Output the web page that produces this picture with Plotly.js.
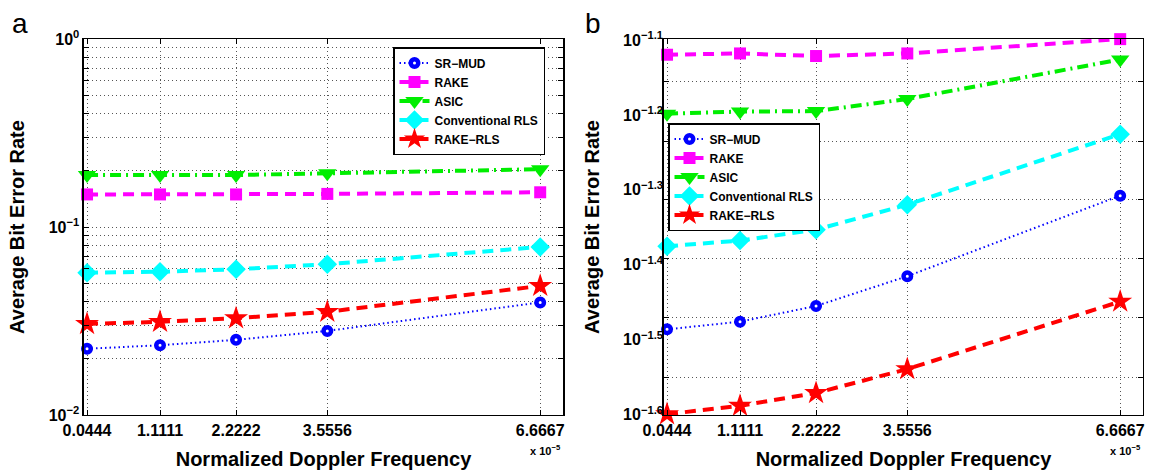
<!DOCTYPE html>
<html>
<head>
<meta charset="utf-8">
<script src="https://cdn.plot.ly/plotly-3.0.1.min.js"></script>
<style>html,body{margin:0;padding:0;background:#fff;}#chart{width:1150px;height:474px;}</style>
</head>
<body>
<div id="chart"></div>
<script>
// ---- data ----
const dopplerVals = [0.0444, 1.1111, 2.2222, 3.5556, 6.6667];
const dopplerLabels = ['0.0444', '1.1111', '2.2222', '3.5556', '6.6667'];
const seriesNames = ['SR\u2212MUD', 'RAKE', 'ASIC', 'Conventional RLS', 'RAKE\u2212RLS'];

// panel a (BER)
const aSRMUD   = [0.0225, 0.0235, 0.0251, 0.0280, 0.0397];
const aRAKE    = [0.149, 0.149, 0.149, 0.150, 0.153];
const aASIC    = [0.189, 0.189, 0.189, 0.193, 0.203];
const aConvRLS = [0.0571, 0.0578, 0.0596, 0.0634, 0.0783];
const aRAKERLS = [0.0305, 0.0313, 0.0327, 0.0354, 0.0486];

// panel b (BER)
const bSRMUD   = [0.03265, 0.03343, 0.03507, 0.03842, 0.04917];
const bRAKE    = [0.0757, 0.0760, 0.0754, 0.0760, 0.0794];
const bASIC    = [0.0632, 0.0636, 0.0637, 0.0661, 0.0746];
const bConvRLS = [0.04211, 0.04285, 0.04431, 0.04783, 0.05936];
const bRAKERLS = [0.02518, 0.02584, 0.02687, 0.02891, 0.03555];

// tick labels / tick positions
const aTickVals = [0.01,0.02,0.03,0.04,0.05,0.06,0.07,0.08,0.09,0.1,0.2,0.3,0.4,0.5,0.6,0.7,0.8,0.9,1];
const aTickText = ['10<sup>\u22122</sup>','','','','','','','','','10<sup>\u22121</sup>','','','','','','','','','10<sup>0</sup>'];
const bLabelExps = [-1.1, -1.2, -1.3, -1.4, -1.5, -1.6];
const bLabelText = ['10<sup>\u22121.1</sup>','10<sup>\u22121.2</sup>','10<sup>\u22121.3</sup>','10<sup>\u22121.4</sup>','10<sup>\u22121.5</sup>','10<sup>\u22121.6</sup>'];
const bGridExps = [-1.157, -1.2366, -1.3135, -1.3918, -1.470, -1.5496];

// ---- styles ----
const styles = [
  {line:{color:'#0000ff', width:2, dash:'1.5px,3px'}, marker:{symbol:'circle', size:7.5, color:'#ffffff', line:{color:'#0000ff', width:4.5}}},
  {line:{color:'#ff00ff', width:4, dash:'11px,7px'}, marker:{symbol:'square', size:12, color:'#ff00ff', line:{width:0}}},
  {line:{color:'#00ee00', width:4, dash:'11px,5px,2px,5px'}, marker:{symbol:'triangle-down', size:16, color:'#00ee00', line:{width:0}}},
  {line:{color:'#00ffff', width:4, dash:'11px,7px'}, marker:{symbol:'diamond', size:15, color:'#00ffff', line:{width:0}}},
  {line:{color:'#ff0000', width:4, dash:'11px,7px'}, marker:{symbol:'star', size:18, color:'#ff0000', line:{width:0}}}
];

const aData = [aSRMUD, aRAKE, aASIC, aConvRLS, aRAKERLS];
const bData = [bSRMUD, bRAKE, bASIC, bConvRLS, bRAKERLS];

const traces = [];
aData.forEach((ys, i) => traces.push({
  type:'scatter', mode:'lines+markers', x:dopplerVals, y:ys, name:seriesNames[i],
  xaxis:'x', yaxis:'y', legend:'legend', cliponaxis:false,
  line:styles[i].line, marker:styles[i].marker
}));
bData.forEach((ys, i) => traces.push({
  type:'scatter', mode:'lines+markers', x:dopplerVals, y:ys, name:seriesNames[i],
  xaxis:'x2', yaxis:'y2', legend:'legend2', cliponaxis:false,
  line:styles[i].line, marker:styles[i].marker
}));
// empty trace so the label axis of panel b is drawn
traces.push({type:'scatter', mode:'markers', x:[], y:[], xaxis:'x2', yaxis:'y3', showlegend:false, hoverinfo:'skip'});

const FONT = 'Liberation Sans, Arial, Helvetica, sans-serif';
const gridStyle = {showgrid:true, gridcolor:'#555555', gridwidth:1, griddash:'1px,3px'};
const lineStyle = {showline:true, linecolor:'#000', linewidth:1.5, mirror:'ticks', ticks:'inside', ticklen:5, tickwidth:1, tickcolor:'#000', zeroline:false};

const yDom = [0.1245, 0.9177];

function xAxis(dom, anchor) {
  return Object.assign({
    domain:dom, anchor:anchor, range:[0,7], tickmode:'array', tickvals:dopplerVals, ticktext:dopplerLabels,
    tickfont:{family:FONT, size:16, weight:'bold', color:'#000'},
    title:{text:'Normalized Doppler Frequency', font:{family:FONT, size:20, weight:'bold', color:'#000'}, standoff:14},
    automargin:false, fixedrange:true
  }, gridStyle, lineStyle);
}

const legendBase = {
  bgcolor:'#ffffff', bordercolor:'#000', borderwidth:1.5,
  font:{family:FONT, size:12, weight:'bold', color:'#000'},
  xanchor:'left', yanchor:'top', tracegroupgap:0, itemwidth:30
};

const layout = {
  width:1150, height:474,
  margin:{l:0, r:0, t:0, b:0},
  paper_bgcolor:'#ffffff', plot_bgcolor:'#ffffff',
  font:{family:FONT, color:'#000'},
  showlegend:true,
  xaxis: xAxis([0.07304, 0.48957], 'y'),
  xaxis2: xAxis([0.57739, 0.99391], 'y2'),
  yaxis: Object.assign({
    domain:yDom, anchor:'x', type:'log', range:[-2,0], tickmode:'array', tickvals:aTickVals, ticktext:aTickText,
    tickfont:{family:FONT, size:16, weight:'bold', color:'#000'},
    title:{text:'Average Bit Error Rate', font:{family:FONT, size:20, weight:'bold', color:'#000'}, standoff:18},
    automargin:false, fixedrange:true
  }, gridStyle, lineStyle),
  yaxis2: Object.assign({
    domain:yDom, anchor:'x2', type:'log', range:[-1.6,-1.1], tickmode:'array',
    tickvals:bGridExps.map(e => Math.pow(10, e)), showticklabels:false,
    automargin:false, fixedrange:true
  }, gridStyle, lineStyle),
  yaxis3: {
    domain:yDom, anchor:'x2', overlaying:'y2', side:'left', range:[-1.6005,-1.0987],
    tickmode:'array', tickvals:bLabelExps, ticktext:bLabelText, showgrid:false, zeroline:false, showline:false, ticks:'',
    tickfont:{family:FONT, size:16, weight:'bold', color:'#000'},
    title:{text:'Average Bit Error Rate', font:{family:FONT, size:20, weight:'bold', color:'#000'}, standoff:18},
    automargin:false, fixedrange:true
  },
  legend: Object.assign({}, legendBase, {x:393/1150, y:1-47/474}),
  legend2: Object.assign({}, legendBase, {x:668/1150, y:1-123/474}),
  annotations:[
    {text:'a', xref:'paper', yref:'paper', x:10/1150, y:1-6/474, xanchor:'left', yanchor:'top', showarrow:false, font:{family:FONT, size:28, color:'#000'}},
    {text:'b', xref:'paper', yref:'paper', x:583/1150, y:1-6/474, xanchor:'left', yanchor:'top', showarrow:false, font:{family:FONT, size:28, color:'#000'}},
    {text:'x 10<sup>\u22125</sup>', xref:'paper', yref:'paper', x:563/1150, y:1-450/474, xanchor:'right', yanchor:'middle', showarrow:false, font:{family:FONT, size:11, weight:'bold', color:'#000'}},
    {text:'x 10<sup>\u22125</sup>', xref:'paper', yref:'paper', x:1143/1150, y:1-450/474, xanchor:'right', yanchor:'middle', showarrow:false, font:{family:FONT, size:11, weight:'bold', color:'#000'}}
  ]
};

Plotly.newPlot('chart', traces, layout, {displayModeBar:false, staticPlot:true});
</script>
</body>
</html>
